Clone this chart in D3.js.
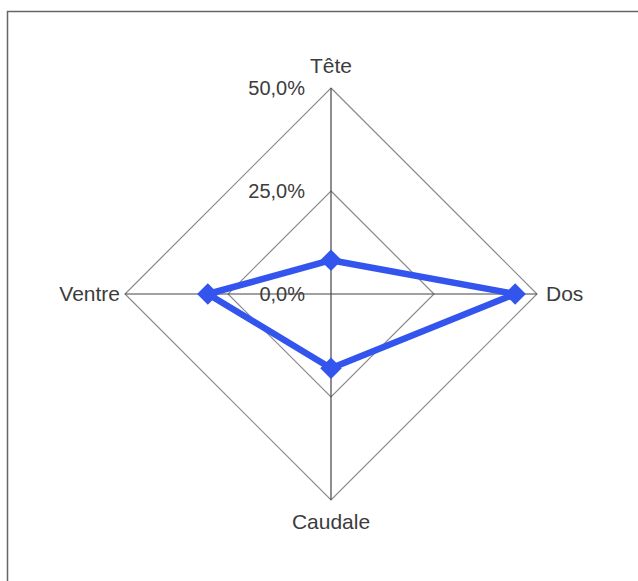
<!DOCTYPE html>
<html>
<head>
<meta charset="utf-8">
<script src="https://cdn.jsdelivr.net/npm/d3@7"></script>
<style>
  body { margin: 0; background: #fff; }
  text { font-family: Arial, "Liberation Sans", sans-serif; fill: #3c3c3c; }
</style>
</head>
<body>
<div id="chart"></div>
<script>
const axes = ["Tête", "Dos", "Caudale", "Ventre"];
const values = [0.082, 0.447, 0.18, 0.299];
const ticks = [0, 0.25, 0.5];
const tickLabels = ["0,0%", "25,0%", "50,0%"];

const width = 638, height = 581;
const cx = 331, cy = 294, radius = 206;

const svg = d3.select("#chart").append("svg")
  .attr("width", width).attr("height", height);

// frame
svg.append("rect")
  .attr("x", 7.5).attr("y", 11.5)
  .attr("width", 640).attr("height", 580)
  .attr("fill", "none").attr("stroke", "#666").attr("stroke-width", 1.5);

const r = d3.scaleLinear().domain([0, 0.5]).range([0, radius]);
const angle = d3.scalePoint().domain(axes).range([0, 2 * Math.PI * 3 / 4]);

const g = svg.append("g").attr("transform", `translate(${cx},${cy})`);

const pt = (a, v) => {
  const t = angle(a);
  return [r(v) * Math.sin(t), -r(v) * Math.cos(t)];
};

// grid rings
g.selectAll(".ring")
  .data(ticks.filter((d) => d > 0))
  .join("polygon")
  .attr("points", (v) => axes.map((a) => pt(a, v).join(",")).join(" "))
  .attr("fill", "none")
  .attr("stroke", "#888")
  .attr("stroke-width", 1.2);

// spokes
g.selectAll(".spoke")
  .data(axes)
  .join("line")
  .attr("x1", 0).attr("y1", 0)
  .attr("x2", (a) => pt(a, 0.5)[0])
  .attr("y2", (a) => pt(a, 0.5)[1])
  .attr("stroke", "#444")
  .attr("stroke-width", 1.2);

// tick labels along the top axis
g.selectAll(".tick")
  .data(ticks)
  .join("text")
  .attr("x", -26)
  .attr("y", (v) => -r(v) + 2)
  .attr("text-anchor", "end")
  .attr("dominant-baseline", "middle")
  .style("font-size", "20px")
  .text((v, i) => tickLabels[i]);

// axis labels
const labelPos = {
  "Tête": { dx: 0, dy: -15, anchor: "middle", base: "auto" },
  "Dos": { dx: 9, dy: 1, anchor: "start", base: "middle" },
  "Caudale": { dx: 0, dy: 29, anchor: "middle", base: "auto" },
  "Ventre": { dx: -5, dy: 1, anchor: "end", base: "middle" },
};
g.selectAll(".label")
  .data(axes)
  .join("text")
  .attr("x", (a) => pt(a, 0.5)[0] + labelPos[a].dx)
  .attr("y", (a) => pt(a, 0.5)[1] + labelPos[a].dy)
  .attr("text-anchor", (a) => labelPos[a].anchor)
  .attr("dominant-baseline", (a) => labelPos[a].base)
  .style("font-size", "21px")
  .text((a) => a);

// series
const line = d3.line().curve(d3.curveLinearClosed);
g.append("path")
  .attr("d", line(axes.map((a, i) => pt(a, values[i]))))
  .attr("fill", "none")
  .attr("stroke", "#3355ee")
  .attr("stroke-width", 6.5)
  .attr("stroke-linejoin", "round");

g.selectAll(".marker")
  .data(axes)
  .join("path")
  .attr("d", d3.symbol(d3.symbolSquare, 230))
  .attr("transform", (a, i) => {
    const p = pt(a, values[i]);
    return `translate(${p[0]},${p[1]}) rotate(45)`;
  })
  .attr("fill", "#3355ee");
</script>
</body>
</html>
